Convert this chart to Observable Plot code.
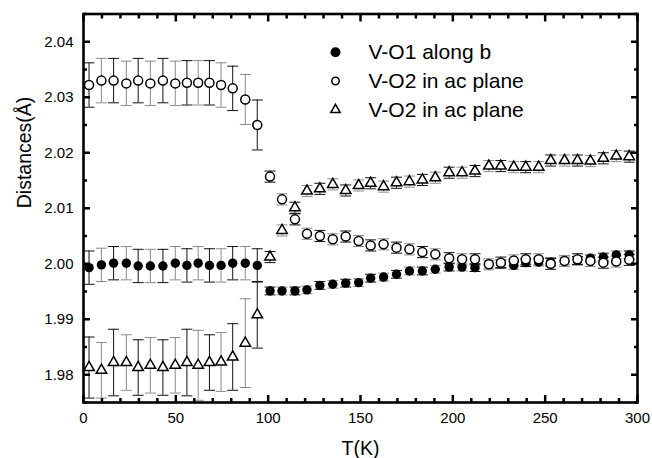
<!DOCTYPE html>
<html><head><meta charset="utf-8">
<script src="https://cdn.jsdelivr.net/npm/d3@7"></script>
<script src="https://cdn.jsdelivr.net/npm/@observablehq/plot@0.6"></script>
<style>
body{margin:0;background:#fff}
#chart svg{font-family:"Liberation Sans",Arial,sans-serif;background:#fff}
</style>
</head><body><div id="chart"></div>
<script>
// Temperatures (K)
const tLow  = [3, 9.7, 16.3, 23.2, 29.6, 36.2, 43, 49.7, 56, 62.1, 68.2, 74.5, 80.8, 87.6, 94.1];
const tHigh = [101, 107.5, 114.5, 121, 128, 135, 142, 149, 155.5, 162.5, 169.5, 176.5, 183.5, 190.5, 198,
               205, 212, 219.5, 226, 233, 239.5, 246.5, 253, 260.5, 267.5, 274.5, 281.5, 288.5, 295.5];

// V-O1 along b (filled circles)
const vo1Low  = [1.9993, 1.9998, 2.0001, 2.0001, 1.9996, 1.9996, 1.9996, 2.0001, 1.9997, 2.0001, 1.9997, 1.9997, 2.0001, 2.0001, 1.9997];
const vo1High = [1.9951, 1.9951, 1.9951, 1.9953, 1.9961, 1.9963, 1.9965, 1.9966, 1.9974, 1.9976, 1.9981, 1.9987, 1.9987, 1.9990, 1.9994,
                 1.9994, 1.9993, 1.9999, 2.0000, 1.9997, 2.0002, 2.0003, 2.0003, 2.0005, 2.0006, 2.0010, 2.0012, 2.0016, 2.0016];
const vo1ErrLow  = [0.003, 0.003, 0.003, 0.003, 0.003, 0.003, 0.003, 0.003, 0.003, 0.003, 0.003, 0.003, 0.003, 0.003, 0.003];
const vo1ErrHigh = 0.0007;

// V-O2 in ac plane (open circles)
const vo2aLow  = [2.0322, 2.0330, 2.0330, 2.0325, 2.0330, 2.0325, 2.0330, 2.0325, 2.0326, 2.0326, 2.0326, 2.0322, 2.0316, 2.0296, 2.0250];
const vo2aHigh = [2.0157, 2.0116, 2.0080, 2.0054, 2.0050, 2.0044, 2.0049, 2.0041, 2.0033, 2.0035, 2.0029, 2.0026, 2.0021, 2.0017, 2.0010,
                  2.0008, 2.0008, 1.9999, 2.0002, 2.0006, 2.0008, 2.0008, 2.0000, 2.0005, 2.0008, 2.0005, 2.0002, 2.0004, 2.0007];
const vo2aErrLow  = [0.004, 0.004, 0.004, 0.004, 0.004, 0.004, 0.004, 0.004, 0.004, 0.004, 0.004, 0.004, 0.004, 0.0045, 0.0045];
const vo2aErrHigh = 0.001;

// V-O2 in ac plane (open triangles)
const vo2bLow  = [1.9813, 1.9808, 1.9822, 1.9822, 1.9813, 1.9817, 1.9813, 1.9817, 1.9822, 1.9817, 1.9822, 1.9823, 1.9832, 1.9857, 1.9908];
const vo2bHigh = [2.0012, 2.0060, 2.0101, 2.0131, 2.0135, 2.0143, 2.0132, 2.0141, 2.0145, 2.0139, 2.0146, 2.0148, 2.0151, 2.0155, 2.0164,
                  2.0164, 2.0167, 2.0176, 2.0176, 2.0174, 2.0174, 2.0174, 2.0186, 2.0186, 2.0186, 2.0185, 2.0190, 2.0194, 2.0193];
const vo2bErrLow  = [0.0055, 0.005, 0.006, 0.005, 0.005, 0.005, 0.005, 0.005, 0.006, 0.0063, 0.005, 0.0053, 0.006, 0.008, 0.006];
const vo2bErrHigh = 0.001;

// Axis ticks and labels
const xMajor = [0, 50, 100, 150, 200, 250, 300];
const xMinor = [10, 20, 30, 40, 60, 70, 80, 90, 110, 120, 130, 140, 160, 170, 180, 190, 210, 220, 230, 240, 260, 270, 280, 290];
const yMajor = [1.98, 1.99, 2.00, 2.01, 2.02, 2.03, 2.04];
const yMinor = [1.975, 1.985, 1.995, 2.005, 2.015, 2.025, 2.035, 2.045];
const legendLabels = ["V-O1 along b", "V-O2 in ac plane", "V-O2 in ac plane"];
const xTitle = "T(K)";
const yTitle = "Distances(Å)";

function rows(ts, vs, es) {
  return ts.map((T, i) => ({T, v: vs[i], e: Array.isArray(es) ? es[i] : es, i}));
}
const s1 = rows(tLow, vo1Low, vo1ErrLow).concat(rows(tHigh, vo1High, vo1ErrHigh));
const s2 = rows(tLow, vo2aLow, vo2aErrLow).concat(rows(tHigh, vo2aHigh, vo2aErrHigh));
const s3 = rows(tLow, vo2bLow, vo2bErrLow).concat(rows(tHigh, vo2bHigh, vo2bErrHigh));
const allRows = s1.concat(s2, s3);

const cap = {draw(ctx, size) { const w = Math.sqrt(size / Math.PI); ctx.moveTo(-w, 0); ctx.lineTo(w, 0); }};
const barColor = d => (d.i % 2 ? "#8a8a8a" : "#111");

const legendMarks = [];
const legendSyms = [
  {symbol: "circle", r: 5, fill: "black", stroke: "none"},
  {symbol: "circle", r: 3.7, fill: "white", stroke: "black"},
  {symbol: "triangle", r: 3.5, fill: "white", stroke: "black"}
];
legendLabels.forEach((lab, k) => {
  const dy = 38.2 + k * 28.8;
  legendMarks.push(Plot.dot([0], {frameAnchor: "top-left", dx: 252, dy, symbol: legendSyms[k].symbol, r: legendSyms[k].r,
    fill: legendSyms[k].fill, stroke: legendSyms[k].stroke, strokeWidth: 1.5}));
  legendMarks.push(Plot.text([lab], {frameAnchor: "top-left", dx: 285, dy, text: d => d, textAnchor: "start",
    lineAnchor: "middle", fontSize: 21, fill: "black"}));
});

const plot = Plot.plot({
  width: 652, height: 458,
  marginLeft: 83, marginRight: 15, marginTop: 13.5, marginBottom: 56,
  style: {fontFamily: "'Liberation Sans', Arial, sans-serif", fontSize: "15px", color: "black", background: "white"},
  x: {domain: [0, 300]},
  y: {domain: [1.975, 2.045]},
  marks: [
    // error bars
    Plot.ruleX(allRows, {x: "T", y1: d => d.v - d.e, y2: d => d.v + d.e, stroke: barColor, strokeWidth: 1, clip: true}),
    Plot.dot(allRows, {x: "T", y: d => d.v + d.e, symbol: cap, r: 5.5, fill: "none", stroke: barColor, strokeWidth: 1, clip: true}),
    Plot.dot(allRows, {x: "T", y: d => d.v - d.e, symbol: cap, r: 5.5, fill: "none", stroke: barColor, strokeWidth: 1, clip: true}),
    // markers
    Plot.dot(s1, {x: "T", y: "v", r: 4.7, fill: "black", stroke: "none"}),
    Plot.dot(s2, {x: "T", y: "v", r: 4.5, fill: "white", stroke: "black", strokeWidth: 1.5}),
    Plot.dot(s3, {x: "T", y: "v", symbol: "triangle", r: 3.9, fill: "white", stroke: "black", strokeWidth: 1.5}),
    // frame
    Plot.frame({stroke: "black", strokeWidth: 2.6}),
    // inward ticks
    Plot.axisX(xMajor, {anchor: "bottom", tickSize: -7, strokeWidth: 2.5, fill: "none", label: null}),
    Plot.axisX(xMinor, {anchor: "bottom", tickSize: -4, strokeWidth: 2.5, fill: "none", label: null}),
    Plot.axisX(xMajor, {anchor: "top", tickSize: -7, strokeWidth: 2.5, fill: "none", label: null}),
    Plot.axisX(xMinor, {anchor: "top", tickSize: -4, strokeWidth: 2.5, fill: "none", label: null}),
    Plot.axisY(yMajor, {anchor: "left", tickSize: -7, strokeWidth: 2.5, fill: "none", label: null}),
    Plot.axisY(yMinor, {anchor: "left", tickSize: -4, strokeWidth: 2.5, fill: "none", label: null}),
    Plot.axisY(yMajor, {anchor: "right", tickSize: -7, strokeWidth: 2.5, fill: "none", label: null}),
    Plot.axisY(yMinor, {anchor: "right", tickSize: -4, strokeWidth: 2.5, fill: "none", label: null}),
    // tick labels
    Plot.axisX(xMajor, {anchor: "bottom", tickSize: 0, tickPadding: 10, fontSize: 15, label: null, tickFormat: d3.format("d")}),
    Plot.axisY(yMajor, {anchor: "left", tickSize: 0, tickPadding: 10, fontSize: 15, label: null, tickFormat: d3.format(".2f")}),
    // titles
    Plot.text([xTitle], {frameAnchor: "bottom", dy: 46, text: d => d, fontSize: 19.5, lineAnchor: "middle", fill: "black"}),
    Plot.text([yTitle], {frameAnchor: "left", dx: -59, rotate: -90, text: d => d, fontSize: 19.5, lineAnchor: "middle", fill: "black"}),
    ...legendMarks
  ]
});
document.getElementById("chart").append(plot);
</script>
</body></html>
